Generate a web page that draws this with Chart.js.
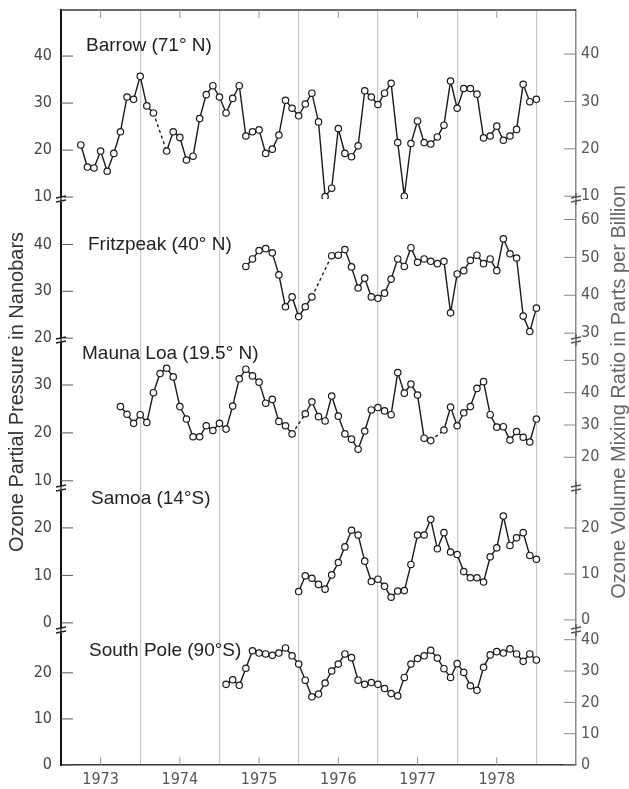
<!DOCTYPE html>
<html>
<head>
<meta charset="utf-8">
<script src="https://cdn.jsdelivr.net/npm/chart.js@4/dist/chart.umd.min.js"></script>
<style>
  html, body { margin: 0; padding: 0; background: #fff; }
  canvas { display: block; }
</style>
</head>
<body>
<canvas id="ozoneChart" width="629" height="789"></canvas>
<script>
// Monthly mean ozone partial pressure (nanobars)
const stations = ['Barrow (71° N)', 'Fritzpeak (40° N)', 'Mauna Loa (19.5° N)', 'Samoa (14°S)', 'South Pole (90°S)'];

// first month of each record: [year, month]
const barrowStart = [1973, 4];
const maunaLoaStart = [1973, 10];
const southPoleStart = [1975, 2];
const fritzpeakStart = [1975, 5];
const samoaStart = [1976, 1];

// null = missing month (bridged with a dashed line)
const barrow = [21.1, 16.4, 16.2, 19.8, 15.5, 19.3, 23.9, 31.3, 30.8, 35.7, 29.4, 27.9, null, 19.8, 23.9, 22.7, 17.9, 18.7, 26.7, 31.8,
  33.7, 31.3, 27.9, 31.0, 33.7, 23.0, 23.9, 24.3, 19.3, 20.2, 23.2, 30.6, 28.9, 27.3, 29.8, 32.1, 26.0, 10.1, 11.9, 24.6,
  19.3, 18.6, 20.9, 32.6, 31.3, 29.7, 32.1, 34.2, 21.6, 10.2, 21.4, 26.2, 21.6, 21.3, 22.8, 25.3, 34.7, 28.9, 33.1, 33.1,
  31.9, 22.6, 23.0, 25.1, 22.1, 23.0, 24.4, 34.0, 30.3, 30.8];
const fritzpeak = [35.3, 36.9, 38.7, 39.1, 38.2, 33.5, 26.7, 28.8, 24.6, 26.7, 28.8, null, null, 37.6, 37.7, 38.9, 35.2, 30.7, 32.8, 28.8,
  28.5, 29.6, 32.6, 36.9, 35.3, 39.3, 36.2, 36.9, 36.4, 35.9, 36.4, 25.4, 33.7, 34.4, 36.6, 37.7, 35.9, 36.9, 34.4, 41.2,
  38.0, 37.1, 24.7, 21.4, 26.4];
const maunaLoa = [25.5, 23.9, 22.0, 23.8, 22.2, 28.4, 32.4, 33.5, 31.7, 25.5, 22.9, 19.2, 19.2, 21.5, 20.5, 22.0, 20.8, 25.6, 31.3, 33.3,
  31.9, 30.6, 26.2, 27.0, 22.4, 21.5, 19.8, null, 24.0, 26.5, 23.4, 22.5, 27.7, 23.5, 19.8, 18.7, 16.6, 20.4, 24.8, 25.3,
  24.6, 23.8, 32.6, 28.3, 30.2, 27.9, 18.9, 18.4, null, 20.6, 25.4, 21.5, 24.2, 25.5, 29.3, 30.7, 23.8, 21.2, 21.3, 18.5,
  20.3, 19.1, 18.1, 22.9];
const samoa = [6.6, 9.9, 9.4, 8.1, 7.1, 10.1, 12.7, 16.0, 19.5, 18.5, 13.0, 8.7, 9.2, 7.7, 5.4, 6.7, 6.8, 12.3, 18.5, 18.5,
  21.8, 15.6, 19.0, 14.9, 14.4, 10.8, 9.5, 9.5, 8.6, 13.9, 15.8, 22.5, 16.3, 17.9, 19.0, 14.2, 13.4];
const southPole = [17.5, 18.5, 17.3, 21.0, 24.8, 24.3, 24.1, 23.8, 24.3, 25.4, 23.7, 21.9, 18.4, 14.8, 15.4, 17.8, 20.4, 21.9, 24.1, 23.3,
  18.4, 17.5, 17.9, 17.5, 16.6, 15.5, 15.0, 19.0, 21.9, 23.1, 23.7, 24.9, 23.2, 20.9, 19.0, 22.0, 20.1, 17.2, 16.2, 21.2,
  23.9, 24.6, 24.3, 25.2, 24.1, 22.5, 24.1, 22.8];

// tick labels
const yearLabels = ['1973', '1974', '1975', '1976', '1977', '1978'];
const yearLines = [1974, 1975, 1976, 1977, 1978, 1979];
const leftTicks = [[10, 20, 30, 40], [20, 30, 40], [10, 20, 30], [0, 10, 20], [0, 10, 20]];
const rightTicks = [[10, 20, 30, 40], [30, 40, 50, 60], [20, 30, 40, 50], [0, 10, 20], [0, 10, 20, 30, 40]];

const LEFT_TITLE = 'Ozone Partial Pressure in Nanobars';
const RIGHT_TITLE = 'Ozone Volume Mixing Ratio in Parts per Billion';

function monthly(start, values) {
  const t0 = start[0] + (start[1] - 1) / 12;
  return values.map((v, i) => ({ x: t0 + i / 12, y: v }));
}

// panel layout: axis ranges (nb on the left, ppb on the right), heights, title placement
const panels = [
  { data: monthly(barrowStart, barrow), left: [9.6, 49.8], right: [9.4, 49.3], weight: 189, tx: 25, ty: 36 },
  { data: monthly(fritzpeakStart, fritzpeak), left: [19.6, 49.7], right: [28.2, 65.4], weight: 141, tx: 27, ty: 46 },
  { data: monthly(maunaLoaStart, maunaLoa), left: [8.5, 39.4], right: [10.5, 56.3], weight: 148, tx: 21, ty: 14 },
  { data: monthly(samoaStart, samoa), left: [-1.5, 28.4], right: [-2.2, 28.7], weight: 142, tx: 30, ty: 11 },
  { data: monthly(southPoleStart, southPole), left: [0, 29.3], right: [0, 43.1], weight: 135, tx: 28, ty: 21 }
];

const numFont = { family: "'Liberation Sans Narrow', 'DejaVu Sans Condensed', 'Liberation Sans', sans-serif", size: 16 };
const textFont = "'Liberation Sans', Arial, sans-serif";

const noPad = axis => {
  axis.paddingTop = 0; axis.paddingBottom = 0;
  axis.paddingLeft = 0; axis.paddingRight = 0;
};

const scales = {
  x: {
    type: 'linear',
    min: 1973,
    max: 1979.5,
    afterBuildTicks: axis => {
      const t = yearLines.map(v => ({ value: v })).concat(yearLabels.map(y => ({ value: +y + 0.5 })));
      axis.ticks = t.sort((a, b) => a.value - b.value);
    },
    afterFit: axis => { axis.height = 24; noPad(axis); },
    grid: {
      drawTicks: false,
      lineWidth: 1.2,
      color: ctx => (ctx.tick && ctx.tick.value % 1 === 0 ? '#c8c8c8' : 'rgba(0,0,0,0)')
    },
    border: { color: '#333', width: 1.5 },
    ticks: {
      autoSkip: false,
      maxRotation: 0,
      padding: 5,
      color: '#555',
      font: numFont,
      callback: v => (v % 1 === 0 ? '' : String(Math.floor(v)))
    }
  }
};

// left stack is placed in reverse definition order, so define it bottom-up
for (let k = panels.length - 1; k >= 0; k--) {
  const p = panels[k];
  scales['L' + k] = {
    type: 'linear', position: 'left', stack: 'left', stackWeight: p.weight,
    min: p.left[0], max: p.left[1],
    afterBuildTicks: axis => { axis.ticks = leftTicks[k].map(v => ({ value: v })); },
    afterFit: axis => { axis.width = 61; noPad(axis); },
    grid: { display: false, drawTicks: false },
    border: { color: '#111', width: 2 },
    ticks: { autoSkip: false, padding: 9, color: '#444', font: numFont }
  };
}
panels.forEach((p, k) => {
  scales['R' + k] = {
    type: 'linear', position: 'right', stack: 'right', stackWeight: p.weight,
    min: p.right[0], max: p.right[1],
    afterBuildTicks: axis => { axis.ticks = rightTicks[k].map(v => ({ value: v })); },
    afterFit: axis => { axis.width = 53; noPad(axis); },
    grid: { display: false, drawTicks: false },
    border: { color: '#888', width: 1.5 },
    ticks: { autoSkip: false, padding: 5, color: '#555', font: numFont }
  };
});

const gapDash = (ctx, value) => (ctx.p0.skip || ctx.p1.skip ? value : undefined);

const datasets = panels.map((p, k) => ({
  label: stations[k],
  data: p.data,
  yAxisID: 'L' + k,
  xAxisID: 'x',
  borderColor: '#1a1a1a',
  borderWidth: 1.4,
  pointRadius: 3.2,
  pointBorderWidth: 1.2,
  pointBackgroundColor: '#fff',
  pointBorderColor: '#1a1a1a',
  spanGaps: true,
  segment: { borderDash: ctx => gapDash(ctx, [3, 3]) },
  tension: 0
}));

// frame, inward ticks, axis breaks, panel names, axis titles
const decorations = {
  id: 'decorations',
  afterDraw(chart) {
    const { ctx, chartArea: ca, scales: s } = chart;
    ctx.save();

    ctx.strokeStyle = '#3a3a3a';
    ctx.lineWidth = 1.5;
    ctx.beginPath();
    ctx.moveTo(ca.left, ca.top);
    ctx.lineTo(ca.right, ca.top);
    ctx.stroke();

    // year tick marks on top and bottom edges
    ctx.strokeStyle = '#999';
    ctx.lineWidth = 1;
    yearLabels.forEach(y => {
      const x = s.x.getPixelForValue(+y + 0.5);
      ctx.beginPath();
      ctx.moveTo(x, ca.top); ctx.lineTo(x, ca.top + 8);
      ctx.moveTo(x, ca.bottom); ctx.lineTo(x, ca.bottom - 8);
      ctx.stroke();
    });

    // inward tick marks
    panels.forEach((p, k) => {
      ctx.strokeStyle = '#555';
      leftTicks[k].forEach(v => {
        const y = s['L' + k].getPixelForValue(v);
        ctx.beginPath(); ctx.moveTo(ca.left, y); ctx.lineTo(ca.left + 12, y); ctx.stroke();
      });
      ctx.strokeStyle = '#888';
      rightTicks[k].forEach(v => {
        const y = s['R' + k].getPixelForValue(v);
        ctx.beginPath(); ctx.moveTo(ca.right - 12, y); ctx.lineTo(ca.right, y); ctx.stroke();
      });
    });

    // axis breaks between panels
    const breakMark = (x, y, color) => {
      ctx.fillStyle = '#fff';
      ctx.fillRect(x - 3, y - 2, 6, 5);
      ctx.strokeStyle = color;
      ctx.lineWidth = 1.3;
      ctx.beginPath();
      ctx.moveTo(x - 5, y - 1); ctx.lineTo(x + 5, y - 3);
      ctx.moveTo(x - 5, y + 3); ctx.lineTo(x + 5, y + 1);
      ctx.moveTo(x, y - 6); ctx.lineTo(x, y + 6);
      ctx.stroke();
    };
    for (let k = 0; k < panels.length - 1; k++) {
      const y = s['L' + k].bottom;
      breakMark(ca.left, y, '#222');
      breakMark(ca.right, y, '#555');
    }

    // station names
    ctx.fillStyle = '#222';
    ctx.font = '19px ' + textFont;
    ctx.textBaseline = 'middle';
    ctx.textAlign = 'left';
    panels.forEach((p, k) => {
      ctx.fillText(stations[k], ca.left + p.tx, s['L' + k].top + p.ty);
    });

    // axis titles
    ctx.font = '20px ' + textFont;
    ctx.textAlign = 'center';
    ctx.save();
    ctx.translate(17, 392);
    ctx.rotate(-Math.PI / 2);
    ctx.fillStyle = '#333';
    ctx.fillText(LEFT_TITLE, 0, 0);
    ctx.restore();
    ctx.save();
    ctx.translate(619, 392);
    ctx.rotate(-Math.PI / 2);
    ctx.fillStyle = '#666';
    ctx.fillText(RIGHT_TITLE, 0, 0);
    ctx.restore();

    ctx.restore();
  }
};

new Chart(document.getElementById('ozoneChart').getContext('2d'), {
  type: 'line',
  data: { datasets },
  options: {
    responsive: false,
    animation: false,
    devicePixelRatio: 1,
    layout: { padding: { top: 10, left: 0, right: 0, bottom: 0 } },
    plugins: { legend: { display: false }, tooltip: { enabled: false } },
    scales
  },
  plugins: [decorations]
});
</script>
</body>
</html>
